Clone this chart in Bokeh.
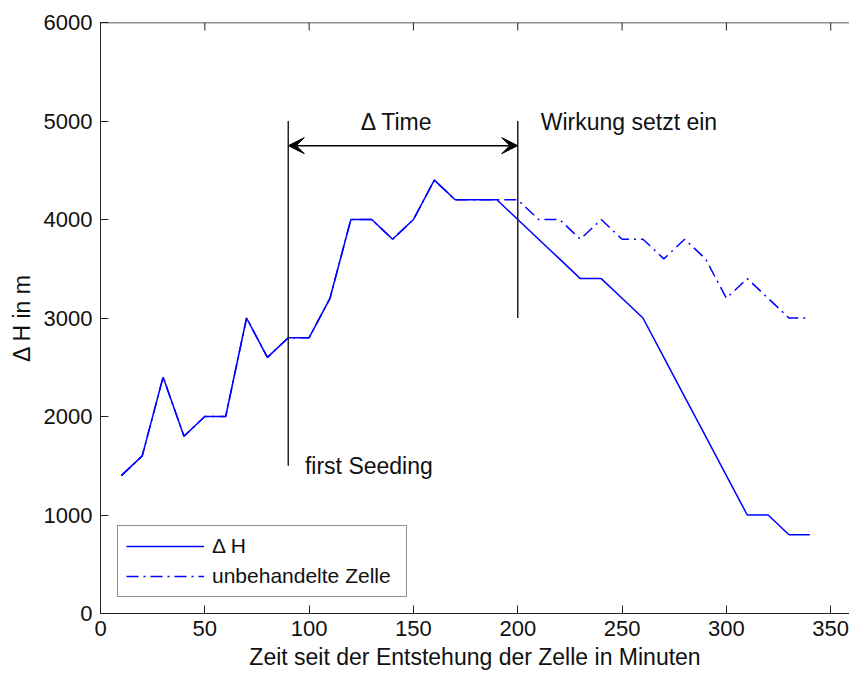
from bokeh.plotting import figure
from bokeh.models import (ColumnDataSource, Range1d, Legend, LegendItem,
                          Arrow, VeeHead, FixedTicker, Span)
from bokeh.core.properties import value
from bokeh.embed import file_html
from bokeh.resources import INLINE

# ---- data ----
minutes = [10, 20, 30, 40, 50, 60, 70, 80, 90, 100, 110, 120, 130, 140, 150, 160, 170,
           180, 190, 200, 210, 220, 230, 240, 250, 260, 270, 280, 290, 300, 310, 320, 330, 340]
delta_h = [1400, 1600, 2400, 1800, 2000, 2000, 3000, 2600, 2800, 2800, 3200, 4000, 4000,
           3800, 4000, 4400, 4200, 4200, 4200, 4000, 3800, 3600, 3400, 3400, 3200, 3000,
           2600, 2200, 1800, 1400, 1000, 1000, 800, 800]
untreated = [1400, 1600, 2400, 1800, 2000, 2000, 3000, 2600, 2800, 2800, 3200, 4000, 4000,
             3800, 4000, 4400, 4200, 4200, 4200, 4200, 4000, 4000, 3800, 4000, 3800, 3800,
             3600, 3800, 3600, 3200, 3400, 3200, 3000, 3000]

x_ticks = [0, 50, 100, 150, 200, 250, 300, 350]
y_ticks = [0, 1000, 2000, 3000, 4000, 5000, 6000]

seeding_time = 90
effect_time = 200
seeding_line_y = [1500, 5000]
effect_line_y = [3000, 5000]
arrow_y = 4750
labels_text = ["\u0394 Time", "Wirkung setzt ein", "first Seeding"]
labels_x = [142, 211, 98]
labels_y = [4990, 4990, 1500]
labels_align = ["center", "left", "left"]

FONT = "Liberation Sans"
AX = "#222222"
TXT = "#111111"

Y_MAX = 6000
TOP_TICK_LEN = 8 * Y_MAX / 591.0  # 8 px expressed in data units

p = figure(width=849, height=675, output_backend="svg", toolbar_location=None,
           x_range=Range1d(0, 359), y_range=Range1d(0, Y_MAX),
           min_border_left=100, min_border_right=0, min_border_top=22, min_border_bottom=62,
           x_axis_label="Zeit seit der Entstehung der Zelle in Minuten",
           y_axis_label="\u0394 H in m")
p.outline_line_color = None
p.grid.visible = False
p.background_fill_color = "white"
p.border_fill_color = "white"

for ax in (p.xaxis[0], p.yaxis[0]):
    ax.major_tick_in = 8
    ax.major_tick_out = 0
    ax.minor_tick_in = 0
    ax.minor_tick_out = 0
    ax.axis_line_color = AX
    ax.major_tick_line_color = AX
    ax.major_label_text_font = FONT
    ax.major_label_text_font_size = "22px"
    ax.major_label_text_color = TXT
    ax.axis_label_text_font = FONT
    ax.axis_label_text_font_size = "23px"
    ax.axis_label_text_font_style = "normal"
    ax.axis_label_text_color = TXT

p.xaxis[0].ticker = FixedTicker(ticks=x_ticks)
p.yaxis[0].ticker = FixedTicker(ticks=y_ticks)
p.xaxis[0].major_label_standoff = 7
p.xaxis[0].axis_label_standoff = 5
p.yaxis[0].major_label_standoff = 8
p.yaxis[0].axis_label_standoff = 6

# top frame edge with inward ticks
p.add_layout(Span(location=Y_MAX, dimension="width", line_color=AX, line_width=1.5))
p.segment(x0=x_ticks, x1=x_ticks, y0=[Y_MAX] * len(x_ticks),
          y1=[Y_MAX - TOP_TICK_LEN] * len(x_ticks), line_color=AX, line_width=1)

src = ColumnDataSource(dict(x=minutes, dh=delta_h, un=untreated))
r_un = p.line("x", "un", source=src, line_color="#0000FF", line_width=1.5,
              line_dash="12 5 2 5")
r_dh = p.line("x", "dh", source=src, line_color="#0000FF", line_width=1.5)

# annotation lines
p.line([seeding_time, seeding_time], seeding_line_y, line_color=AX, line_width=1.5)
p.line([effect_time, effect_time], effect_line_y, line_color=AX, line_width=1.5)
p.add_layout(Arrow(x_start=seeding_time, x_end=effect_time, y_start=arrow_y, y_end=arrow_y,
                   line_color="black", line_width=1.5,
                   start=VeeHead(size=16, fill_color="black", line_color="black"),
                   end=VeeHead(size=16, fill_color="black", line_color="black")))

tsrc = ColumnDataSource(dict(x=labels_x, y=labels_y, t=labels_text, a=labels_align))
p.text("x", "y", text="t", source=tsrc, text_align="a", text_baseline="middle",
       text_font=value(FONT), text_font_size="23px", text_color=TXT)

legend = Legend(items=[LegendItem(label="\u0394 H", renderers=[r_dh]),
                       LegendItem(label="unbehandelte Zelle", renderers=[r_un])],
                location=(17, 16), border_line_color=AX, border_line_width=1,
                padding=8, margin=0, spacing=6, glyph_width=78, glyph_height=24,
                label_height=24, label_width=186, label_standoff=8,
                label_text_font=FONT, label_text_font_size="21px", label_text_color=TXT,
                background_fill_alpha=1)
p.add_layout(legend, "center")

open("out.html", "w").write(file_html(p, INLINE))
